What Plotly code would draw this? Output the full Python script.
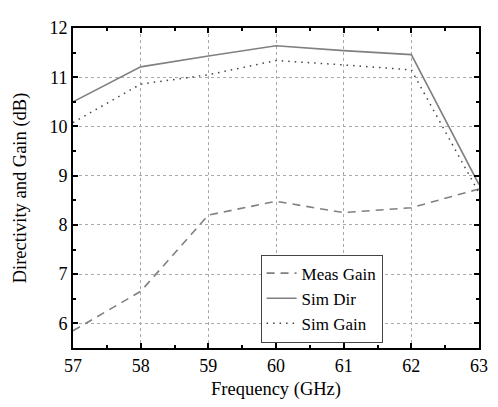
import plotly.graph_objects as go

freq = [57, 58, 59, 60, 61, 62, 63]
meas_gain = [5.85, 6.65, 8.2, 8.48, 8.25, 8.35, 8.73]
sim_dir = [10.5, 11.21, 11.43, 11.64, 11.54, 11.46, 8.82]
sim_gain = [10.08, 10.86, 11.05, 11.34, 11.25, 11.15, 8.65]

x_ticks = [57, 58, 59, 60, 61, 62, 63]
y_ticks = [6, 7, 8, 9, 10, 11, 12]

col = "#808080"
font = "Liberation Serif, Times New Roman, serif"

fig = go.Figure()
fig.add_trace(go.Scatter(x=freq, y=meas_gain, mode="lines", name="Meas Gain",
                         line=dict(color=col, width=1.6, dash="8px,6px")))
fig.add_trace(go.Scatter(x=freq, y=sim_dir, mode="lines", name="Sim Dir",
                         line=dict(color=col, width=1.6)))
fig.add_trace(go.Scatter(x=freq, y=sim_gain, mode="lines", name="Sim Gain",
                         line=dict(color="#444444", width=1.5, dash="1.5px,5px")))

axis_common = dict(
    showline=True, linecolor="black", linewidth=2, mirror="allticks",
    ticks="inside", ticklen=5, tickwidth=1.5, tickcolor="black",
    showgrid=True, gridcolor="#aaaaaa", griddash="dot", gridwidth=1,
    zeroline=False, tickfont=dict(family=font, size=18, color="black"),
)

fig.update_xaxes(range=[57, 63], tickvals=x_ticks,
                 minor=dict(dtick=0.5, ticks="inside", ticklen=3, tickcolor="black", showgrid=False),
                 title=dict(text="Frequency (GHz)", font=dict(family=font, size=18.5, color="black"), standoff=7),
                 **axis_common)
fig.update_yaxes(range=[5.5, 12], tickvals=y_ticks,
                 minor=dict(dtick=0.5, ticks="inside", ticklen=3, tickcolor="black", showgrid=False),
                 title=dict(text="Directivity and Gain (dB)", font=dict(family=font, size=18.5, color="black"), standoff=18),
                 **axis_common)

fig.update_layout(
    width=490, height=399,
    margin=dict(l=65, r=16, t=10, b=59),
    paper_bgcolor="white", plot_bgcolor="white",
    font=dict(family=font, size=18, color="black"),
    legend=dict(x=0.462, y=0.292, xanchor="left", yanchor="top",
                bgcolor="white", bordercolor="#444444", borderwidth=1,
                font=dict(family=font, size=17), tracegroupgap=0,
                itemwidth=30),
    showlegend=True,
)

fig.write_html("out.html")
